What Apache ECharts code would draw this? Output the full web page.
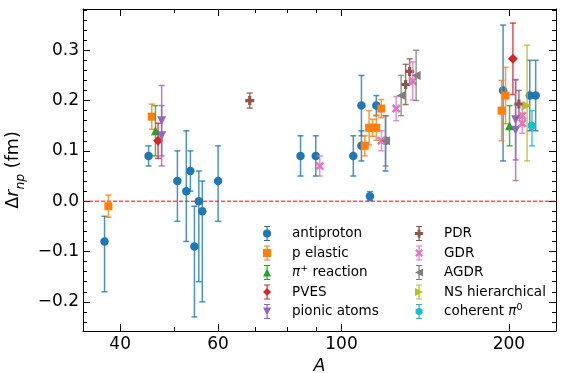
<!DOCTYPE html>
<html>
<head>
<meta charset="utf-8">
<script src="https://cdn.jsdelivr.net/npm/echarts@6/dist/echarts.min.js"></script>
<style>
html,body{margin:0;padding:0;background:#fff;}
#chart{width:569px;height:373px;}
</style>
</head>
<body>
<div id="chart"></div>
<script>
// ---- data (A, delta r_np, lower / upper error) ----
const antiprotonA  = [37.5, 45.0, 50.7, 52.6, 53.5, 54.4, 55.4, 56.2, 60.0, 84.4, 89.9, 105, 108.6, 108.6, 112.5, 115.5, 120, 195.2, 218, 223.4]
const antiprotonR  = [-0.08, 0.09, 0.04, 0.02, 0.06, -0.09, 0.0, -0.02, 0.04, 0.09, 0.09, 0.09, 0.19, 0.11, 0.01, 0.19, 0.12, 0.22, 0.21, 0.21]
const antiprotonLo = [0.10, 0.02, 0.08, 0.10, 0.04, 0.14, 0.16, 0.18, 0.08, 0.04, 0.04, 0.04, 0.06, 0.03, 0.009, 0.02, 0.06, 0.14, 0.07, 0.07]
const antiprotonHi = [0.05, 0.02, 0.06, 0.12, 0.04, 0.08, 0.06, 0.06, 0.07, 0.04, 0.04, 0.04, 0.06, 0.03, 0.009, 0.02, 0.05, 0.13, 0.07, 0.07]

const pElasticA   = [38.1, 45.6, 110.1, 112.1, 113.8, 115.5, 117.9, 194, 197.2]
const pElasticR   = [-0.01, 0.168, 0.11, 0.146, 0.146, 0.146, 0.184, 0.18, 0.21]
const pElasticErr = [0.022, 0.025, 0.02, 0.034, 0.017, 0.025, 0.018, 0.06, 0.056]

const piPlusA   = [46.3, 200.5]
const piPlusR   = [0.14, 0.15]
const piPlusErr = [0.05, 0.04]

const pvesA   = [46.8, 203.3]
const pvesR   = [0.12, 0.283]
const pvesErr = [0.035, 0.071]

const pionicA   = [47.5, 47.5, 205.6, 205.6]
const pionicR   = [0.16, 0.13, 0.162, 0.141]
const pionicErr = [0.07, 0.06, 0.08, 0.10]

const pdrA   = [68.4, 130.4, 132.6, 208.4]
const pdrR   = [0.2, 0.232, 0.258, 0.193]
const pdrErr = [0.015, 0.04, 0.025, 0.027]

const gdrA   = [91.4, 118, 125.4, 134.3, 211.3, 211.3]
const gdrR   = [0.07, 0.12, 0.184, 0.239, 0.17, 0.155]
const gdrErr = [0.02, 0.02, 0.024, 0.038, 0.02, 0.02]

const agdrA   = [120, 128, 136.2]
const agdrR   = [0.12, 0.21, 0.25]
const agdrErr = [0.05, 0.04, 0.05]

const nsA  = [215.6]
const nsR  = [0.19]
const nsLo = [0.11]
const nsHi = [0.12]

const coherentA  = [220]
const coherentR  = [0.15]
const coherentLo = [0.04]
const coherentHi = [0.03]

const zeroLine = [0]

// ---- axes ----
const xTicks = [40, 60, 100, 200]
const xMinorTicks = [50, 70, 80, 90]
const yTicks = [-0.2, -0.1, 0, 0.1, 0.2, 0.3]
const yMinorTicks = []
for (let k = -12; k <= 19; k++) { if (k % 5 !== 0) yMinorTicks.push(k * 0.02) }
const xMin = 34.3, xMax = 243
const yMin = -0.258, yMax = 0.382

// ---- marker shapes (centered on 0,0) ----
const mCircle = 'M-4 0A4 4 0 1 1 4 0A4 4 0 1 1 -4 0Z'
const mSquare = 'M-4 -4H4V4H-4Z'
const mTriUp = 'M0 -4L4 4L-4 4Z'
const mDiamond = 'M0 -4L4 0L0 4L-4 0Z'
const mTriDown = 'M-4 -4L4 -4L0 4Z'
const mPlus = 'M-1.4 -4H1.4V-1.4H4V1.4H1.4V4H-1.4V1.4H-4V-1.4H-1.4Z'
const mX = 'M-4 -2.4L-2.4 -4L0 -1.6L2.4 -4L4 -2.4L1.6 0L4 2.4L2.4 4L0 1.6L-2.4 4L-4 2.4L-1.6 0Z'
const mTriLeft = 'M-4 0L4 -4L4 4Z'
const mTriRight = 'M4 0L-4 4L-4 -4Z'
const mHex = 'M0 -4L3.46 -2L3.46 2L0 4L-3.46 2L-3.46 -2Z'
const barIcon = 'M-0.6 -7H0.6V7H-0.6ZM-3 -7.4H3V-6.4H-3ZM-3 6.4H3V7.4H-3Z'

const groups = [
  {name:'antiproton', color:'#1f77b4', marker:mCircle, size:8.5, A:antiprotonA, r:antiprotonR, lo:antiprotonLo, hi:antiprotonHi},
  {name:'p elastic', color:'#ff7f0e', marker:mSquare, size:8, A:pElasticA, r:pElasticR, lo:pElasticErr, hi:pElasticErr},
  {name:'π⁺ reaction', color:'#2ca02c', marker:mTriUp, size:9, A:piPlusA, r:piPlusR, lo:piPlusErr, hi:piPlusErr},
  {name:'PVES', color:'#d62728', marker:mDiamond, size:10, A:pvesA, r:pvesR, lo:pvesErr, hi:pvesErr},
  {name:'pionic atoms', color:'#9467bd', marker:mTriDown, size:9, A:pionicA, r:pionicR, lo:pionicErr, hi:pionicErr},
  {name:'PDR', color:'#8c564b', marker:mPlus, size:9, A:pdrA, r:pdrR, lo:pdrErr, hi:pdrErr},
  {name:'GDR', color:'#e377c2', marker:mX, size:9, A:gdrA, r:gdrR, lo:gdrErr, hi:gdrErr},
  {name:'AGDR', color:'#7f7f7f', marker:mTriLeft, size:9, A:agdrA, r:agdrR, lo:agdrErr, hi:agdrErr},
  {name:'NS hierarchical', color:'#bcbd22', marker:mTriRight, size:9, A:nsA, r:nsR, lo:nsLo, hi:nsHi},
  {name:'coherent π⁰', color:'#17becf', marker:mHex, size:9, A:coherentA, r:coherentR, lo:coherentLo, hi:coherentHi}
]

const font = 'DejaVu Sans'
const lg = Math.log10

// 误差棒
function renderBar(params, api){
  const x = api.value(0)
  const p0 = api.coord([x, api.value(1)])
  const p1 = api.coord([x, api.value(2)])
  const c = 3
  const style = {stroke: api.visual('color'), lineWidth: 1.5, opacity: 0.8}
  return {type:'group', children:[
    {type:'line', shape:{x1:p0[0], y1:p0[1], x2:p1[0], y2:p1[1]}, style},
    {type:'line', shape:{x1:p0[0]-c, y1:p0[1], x2:p0[0]+c, y2:p0[1]}, style},
    {type:'line', shape:{x1:p1[0]-c, y1:p1[1], x2:p1[0]+c, y2:p1[1]}, style}
  ]}
}

// 零线 (横跨整个绘图区)
function renderZero(params, api){
  const cs = params.coordSys
  const y = api.coord([lg(xMin), api.value(0)])[1]
  return {type:'line', shape:{x1:cs.x, y1:y, x2:cs.x + cs.width, y2:y},
    style:{stroke:'#ff0000', lineWidth:1, lineDash:[4,2], opacity:1}}
}

const series = [{
  type:'custom', z:1, silent:true, encode:{y:0},
  renderItem:renderZero,
  data:zeroLine.map(v => [v])
}]
groups.forEach((g, i) => {
  series.push({
    type:'custom', name:g.name, z:2 + 2 * i, silent:true,
    itemStyle:{color:g.color},
    encode:{x:0, y:[1,2]},
    renderItem:renderBar,
    data:g.A.map((a, k) => [lg(a), g.r[k] - g.lo[k], g.r[k] + g.hi[k]])
  })
  series.push({
    type:'scatter', name:g.name, z:3 + 2 * i, silent:true,
    symbol:'path://' + g.marker, symbolSize:g.size, symbolKeepAspect:true,
    itemStyle:{color:g.color, opacity:1},
    data:g.A.map((a, k) => [lg(a), g.r[k]])
  })
})

const legendText = {
  fontFamily:font, fontSize:13.5, color:'#000', lineHeight:18,
  rich:{
    i:{fontFamily:font, fontSize:13.5, fontStyle:'italic', color:'#000', lineHeight:18},
    sup:{fontFamily:font, fontSize:9.5, color:'#000', lineHeight:9.5, verticalAlign:'top'}
  }
}
function legendFormatter(name){
  return name.replace('π⁺', '{i|π}{sup|+}').replace('π⁰', '{i|π}{sup|0}')
}
function makeLegend(list, left){
  return {
    orient:'vertical', left:left, top:219.5,
    itemWidth:40, itemHeight:15, itemGap:1.5,
    selectedMode:false,
    textStyle:legendText,
    formatter:legendFormatter,
    data:list.map(g => ({name:g.name, icon:'path://' + barIcon + g.marker, itemStyle:{color:g.color}}))
  }
}

function xAxisDef(pos, major){
  return {
    type:'value', min:lg(xMin), max:lg(xMax), position:pos,
    axisLine:{show:major, onZero:false, lineStyle:{color:'#000', width:1}},
    axisTick:{show:true, inside:true, length:major ? 7 : 4,
      customValues:(major ? xTicks : xMinorTicks).map(lg), lineStyle:{color:'#000', width:1}},
    axisLabel:{show:major && pos === 'bottom', customValues:xTicks.map(lg), margin:5,
      fontFamily:font, fontSize:17, color:'#000',
      formatter:v => String(Math.round(Math.pow(10, v)))},
    splitLine:{show:false}
  }
}
function yAxisDef(pos, major){
  return {
    type:'value', min:yMin, max:yMax, position:pos,
    axisLine:{show:major, onZero:false, lineStyle:{color:'#000', width:1}},
    axisTick:{show:true, inside:true, length:major ? 7 : 4,
      customValues:major ? yTicks : yMinorTicks, lineStyle:{color:'#000', width:1}},
    axisLabel:{show:major && pos === 'left', customValues:yTicks, margin:4,
      fontFamily:font, fontSize:17, color:'#000',
      formatter:v => v.toFixed(1).replace('-', '−')},
    splitLine:{show:false}
  }
}

const xAxes = [xAxisDef('bottom', true), xAxisDef('bottom', false), xAxisDef('top', true), xAxisDef('top', false)]
Object.assign(xAxes[0], {
  name:'A', nameLocation:'middle', nameGap:25,
  nameTextStyle:{fontFamily:font, fontSize:17.5, fontStyle:'italic', color:'#000'}
})
const yAxes = [yAxisDef('left', true), yAxisDef('left', false), yAxisDef('right', true), yAxisDef('right', false)]
Object.assign(yAxes[0], {
  name:'{d|Δ}{r|r}{s|np}{d| (fm)}', nameLocation:'middle', nameGap:40, nameRotate:90,
  nameTextStyle:{
    fontFamily:font, fontSize:17.5, color:'#000',
    rich:{
      d:{fontFamily:font, fontSize:17.5, color:'#000', lineHeight:26},
      r:{fontFamily:font, fontSize:17.5, fontStyle:'italic', color:'#000', lineHeight:26},
      s:{fontFamily:font, fontSize:12.5, fontStyle:'italic', color:'#000', lineHeight:13, verticalAlign:'bottom'}
    }
  }
})

const chart = echarts.init(document.getElementById('chart'), null, {renderer:'canvas'})
chart.setOption({
  animation:false,
  backgroundColor:'#fff',
  grid:{left:83, right:13, top:9, bottom:42, containLabel:false, outerBoundsMode:'none'},
  legend:[makeLegend(groups.slice(0, 5), 258), makeLegend(groups.slice(5), 410)],
  xAxis:xAxes,
  yAxis:yAxes,
  series:series
})
window.addEventListener('resize', () => chart.resize())
</script>
</body>
</html>
